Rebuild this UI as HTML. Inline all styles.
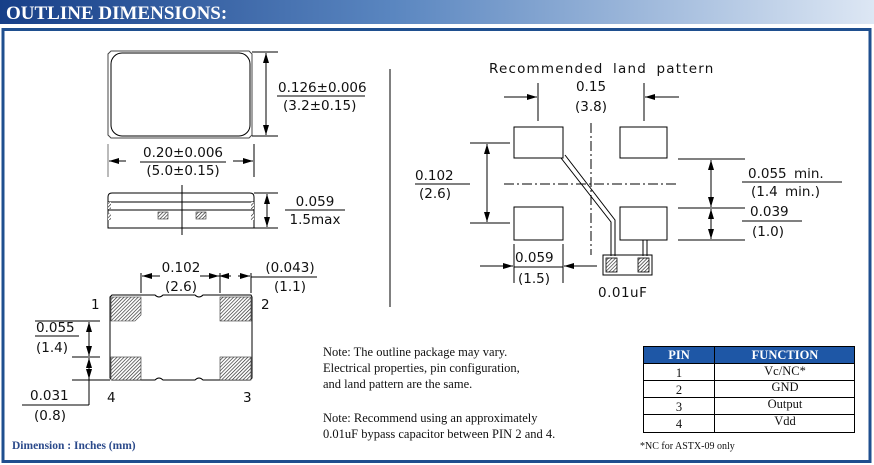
<!DOCTYPE html>
<html><head><meta charset="utf-8"><style>
html,body{margin:0;padding:0;background:#fff;width:874px;height:465px;overflow:hidden}
svg{display:block}
.d{font-family:"DejaVu Sans","Liberation Sans",sans-serif;font-size:13.5px;fill:#111}
.s{font-family:"Liberation Serif",serif;font-size:12.5px;fill:#111}
</style></head><body>
<svg width="874" height="465" viewBox="0 0 874 465" xmlns="http://www.w3.org/2000/svg">
<defs>
<linearGradient id="hg" x1="0" x2="1" y1="0" y2="0">
<stop offset="0" stop-color="#173f88"/><stop offset="0.45" stop-color="#5a86c0"/><stop offset="1" stop-color="#dde7f4"/>
</linearGradient>
<pattern id="h" width="2.5" height="2.5" patternUnits="userSpaceOnUse" patternTransform="rotate(45)">
<rect width="2.5" height="2.5" fill="#fff"/><line x1="0" y1="0" x2="0" y2="2.5" stroke="#222" stroke-width="1.3"/>
</pattern>
<marker id="a" viewBox="0 0 10 6" refX="10" refY="3" markerWidth="10" markerHeight="6" orient="auto-start-reverse" markerUnits="userSpaceOnUse">
<path d="M0,0 L10,3 L0,6z" fill="#000"/></marker>
</defs>
<rect x="0" y="0" width="874" height="24" fill="url(#hg)"/>
<text x="6" y="19" font-family="Liberation Serif,serif" font-weight="bold" font-size="19" fill="#fff">OUTLINE DIMENSIONS:</text>
<rect x="3" y="29.5" width="867" height="432" fill="none" stroke="#1f4f8f" stroke-width="3"/>

<g stroke="#000" stroke-width="1" fill="none">
<path d="M111,51 H249 L252,54 V135 L249,138 H111 L108,135 V54 Z" stroke="#444"/>
<rect x="111" y="53" width="139" height="83" rx="11"/>
<line x1="252" y1="52" x2="278" y2="52"/><line x1="252" y1="136" x2="278" y2="136"/>
<line x1="266" y1="53" x2="266" y2="135" marker-start="url(#a)" marker-end="url(#a)"/>
<line x1="277" y1="96" x2="365" y2="96"/>
<line x1="108" y1="144" x2="108" y2="177" stroke="#777"/><line x1="254" y1="144" x2="254" y2="177"/>
<line x1="126" y1="161" x2="109" y2="161" marker-end="url(#a)"/><line x1="233" y1="161" x2="253" y2="161" marker-end="url(#a)"/>
<line x1="140" y1="162" x2="226" y2="162"/>
<path d="M108,228 V197 Q108,193 112,193 H250 Q254,193 254,197 V228 Z"/>
<line x1="108" y1="202" x2="254" y2="202"/><line x1="108" y1="210" x2="254" y2="210"/>
<line x1="182" y1="185" x2="182" y2="235"/>
<line x1="254" y1="193" x2="278" y2="193"/><line x1="254" y1="228" x2="278" y2="228"/>
<line x1="267" y1="194" x2="267" y2="227" marker-start="url(#a)" marker-end="url(#a)"/>
<line x1="285" y1="210" x2="345" y2="210"/>
</g>
<rect x="158" y="212" width="10" height="7" fill="url(#h)" stroke="#333" stroke-width="0.6"/>
<rect x="196" y="212" width="10" height="7" fill="url(#h)" stroke="#333" stroke-width="0.6"/>
<rect x="108" y="202" width="3" height="7" fill="url(#h)"/><rect x="108" y="213" width="3" height="7" fill="url(#h)"/>
<rect x="251" y="202" width="3" height="7" fill="url(#h)"/><rect x="251" y="213" width="3" height="7" fill="url(#h)"/>
<text class="d" x="278" y="92">0.126±0.006</text>
<text class="d" x="283" y="110">(3.2±0.15)</text>
<text class="d" x="183" y="157" text-anchor="middle">0.20±0.006</text>
<text class="d" x="183" y="175" text-anchor="middle">(5.0±0.15)</text>
<text class="d" x="315" y="206" text-anchor="middle">0.059</text>
<text class="d" x="315" y="224" text-anchor="middle">1.5max</text>
<line x1="390" y1="69" x2="390" y2="307" stroke="#000"/>

<g stroke="#000" stroke-width="1" fill="none">
<path d="M112,295 H155 Q159,299 163,295 H195 Q199,299 203,295 H251 L252,297 V378 L250,380 H203 Q199,376 195,380 H163 Q159,376 155,380 H112 L110,378 V297 Z"/>
<line x1="141" y1="273" x2="141" y2="293"/><line x1="220" y1="273" x2="220" y2="293"/><line x1="251" y1="273" x2="251" y2="293"/>
<line x1="160" y1="276" x2="142" y2="276" marker-end="url(#a)"/><line x1="200" y1="276" x2="219" y2="276" marker-end="url(#a)"/>
<line x1="220" y1="276" x2="231" y2="276"/><line x1="225" y1="276" x2="219" y2="276" marker-end="url(#a)"/>
<line x1="238" y1="276" x2="250" y2="276" marker-end="url(#a)"/>
<line x1="251" y1="277" x2="317" y2="277"/>
<line x1="35" y1="321" x2="100" y2="321"/><line x1="72" y1="357" x2="100" y2="357"/><line x1="72" y1="380" x2="110" y2="380"/>
<line x1="89" y1="322" x2="89" y2="356" marker-start="url(#a)" marker-end="url(#a)"/>
<line x1="89" y1="358" x2="89" y2="405" /><line x1="89" y1="368" x2="89" y2="358" marker-end="url(#a)"/><line x1="89" y1="370" x2="89" y2="379" marker-end="url(#a)"/>
<line x1="22" y1="405" x2="89" y2="405"/>
<line x1="35" y1="336" x2="79" y2="336"/>
</g>
<path d="M111,297 H141 V315 L135,321 H111 Z" fill="url(#h)" stroke="#333" stroke-width="0.6"/>
<rect x="220" y="297" width="31" height="24" fill="url(#h)" stroke="#333" stroke-width="0.6"/>
<rect x="111" y="357" width="30" height="23" fill="url(#h)" stroke="#333" stroke-width="0.6"/>
<rect x="220" y="357" width="31" height="23" fill="url(#h)" stroke="#333" stroke-width="0.6"/>
<text class="d" x="181" y="272" text-anchor="middle">0.102</text>
<text class="d" x="181" y="291" text-anchor="middle">(2.6)</text>
<text class="d" x="290" y="272" text-anchor="middle">(0.043)</text>
<text class="d" x="290" y="291" text-anchor="middle">(1.1)</text>
<text class="d" x="91" y="309">1</text><text class="d" x="261" y="309">2</text>
<text class="d" x="107" y="402">4</text><text class="d" x="243" y="402">3</text>
<text class="d" x="36" y="332">0.055</text><text class="d" x="36" y="352">(1.4)</text>
<text class="d" x="30" y="400">0.031</text><text class="d" x="34" y="420">(0.8)</text>
<text x="12" y="449" font-family="Liberation Serif,serif" font-weight="bold" font-size="11.5" fill="#2b4a8b">Dimension : Inches (mm)</text>

<text class="s" x="323" y="356">Note: The outline package may vary.</text>
<text class="s" x="323" y="372">Electrical properties, pin configuration,</text>
<text class="s" x="323" y="388">and land pattern are the same.</text>
<text class="s" x="323" y="422">Note: Recommend using an approximately</text>
<text class="s" x="323" y="438">0.01uF bypass capacitor between PIN 2 and 4.</text>

<text class="d" x="489" y="73" letter-spacing="1.2" word-spacing="4">Recommended land pattern</text>
<g stroke="#000" stroke-width="1" fill="none">
<rect x="514" y="127" width="49" height="31"/><rect x="620" y="127" width="47" height="31"/>
<rect x="514" y="207" width="49" height="33"/><rect x="620" y="207" width="47" height="33"/>
<line x1="538" y1="83" x2="538" y2="121"/><line x1="644" y1="83" x2="644" y2="121"/>
<line x1="504" y1="97" x2="537" y2="97" marker-end="url(#a)"/><line x1="679" y1="97" x2="645" y2="97" marker-end="url(#a)"/>
<line x1="591" y1="123" x2="591" y2="255" stroke-dasharray="10,3,2,3"/>
<line x1="504" y1="184" x2="678" y2="184" stroke-dasharray="10,3,2,3"/>
<line x1="470" y1="143" x2="510" y2="143"/><line x1="470" y1="223" x2="510" y2="223"/>
<line x1="487" y1="144" x2="487" y2="222" marker-start="url(#a)" marker-end="url(#a)"/>
<line x1="415" y1="184" x2="470" y2="184"/>
<line x1="678" y1="159" x2="745" y2="159"/><line x1="678" y1="208" x2="745" y2="208"/><line x1="678" y1="240" x2="745" y2="240"/>
<line x1="711" y1="160" x2="711" y2="207" marker-start="url(#a)" marker-end="url(#a)"/>
<line x1="711" y1="209" x2="711" y2="239" marker-start="url(#a)" marker-end="url(#a)"/>
<line x1="742" y1="182" x2="842" y2="182"/><line x1="742" y1="221" x2="802" y2="221"/>
<line x1="514" y1="244" x2="514" y2="283"/><line x1="563" y1="244" x2="563" y2="283"/>
<line x1="480" y1="266" x2="513" y2="266" marker-end="url(#a)"/><line x1="597" y1="266" x2="564" y2="266" marker-end="url(#a)"/>
<line x1="514" y1="267" x2="563" y2="267"/>
<path d="M561,158 L611,222 V256"/><path d="M565,155 L615,220 V256"/>
<line x1="643" y1="240" x2="643" y2="256"/><line x1="647" y1="240" x2="647" y2="256"/>
<rect x="603" y="255" width="49" height="20"/>
</g>
<rect x="606" y="258" width="11" height="14" fill="url(#h)" stroke="#000" stroke-width="0.8"/>
<rect x="638" y="258" width="11" height="14" fill="url(#h)" stroke="#000" stroke-width="0.8"/>
<text class="d" x="591" y="91" text-anchor="middle">0.15</text>
<text class="d" x="591" y="111" text-anchor="middle">(3.8)</text>
<text class="d" x="415" y="180">0.102</text><text class="d" x="419" y="198">(2.6)</text>
<text class="d" x="748" y="178" word-spacing="3">0.055 min.</text>
<text class="d" x="751" y="196" word-spacing="3">(1.4 min.)</text>
<text class="d" x="750" y="216">0.039</text><text class="d" x="752" y="236">(1.0)</text>
<text class="d" x="515" y="262">0.059</text><text class="d" x="518" y="283">(1.5)</text>
<text class="d" x="598" y="297" letter-spacing="0.5">0.01uF</text>

<rect x="643" y="346" width="212" height="17" fill="#1e57a6"/>
<g stroke="#000" stroke-width="1" fill="none">
<rect x="643.5" y="346.5" width="211" height="86"/>
<line x1="714.5" y1="346" x2="714.5" y2="432"/>
<line x1="643" y1="363.5" x2="855" y2="363.5"/><line x1="643" y1="380.5" x2="855" y2="380.5"/>
<line x1="643" y1="397.5" x2="855" y2="397.5"/><line x1="643" y1="414.5" x2="855" y2="414.5"/>
</g>
<g font-family="Liberation Serif,serif" font-size="12.5" text-anchor="middle" fill="#111">
<text x="679" y="359" fill="#fff" font-weight="bold">PIN</text>
<text x="785" y="359" fill="#fff" font-weight="bold">FUNCTION</text>
<text x="679" y="377">1</text><text x="785" y="375">Vc/NC*</text>
<text x="679" y="394">2</text><text x="785" y="391">GND</text>
<text x="679" y="411">3</text><text x="785" y="408">Output</text>
<text x="679" y="428">4</text><text x="785" y="425">Vdd</text>
</g>
<text x="640" y="449" font-family="Liberation Serif,serif" font-size="10" fill="#111">*NC for ASTX-09 only</text>
</svg>
</body></html>
